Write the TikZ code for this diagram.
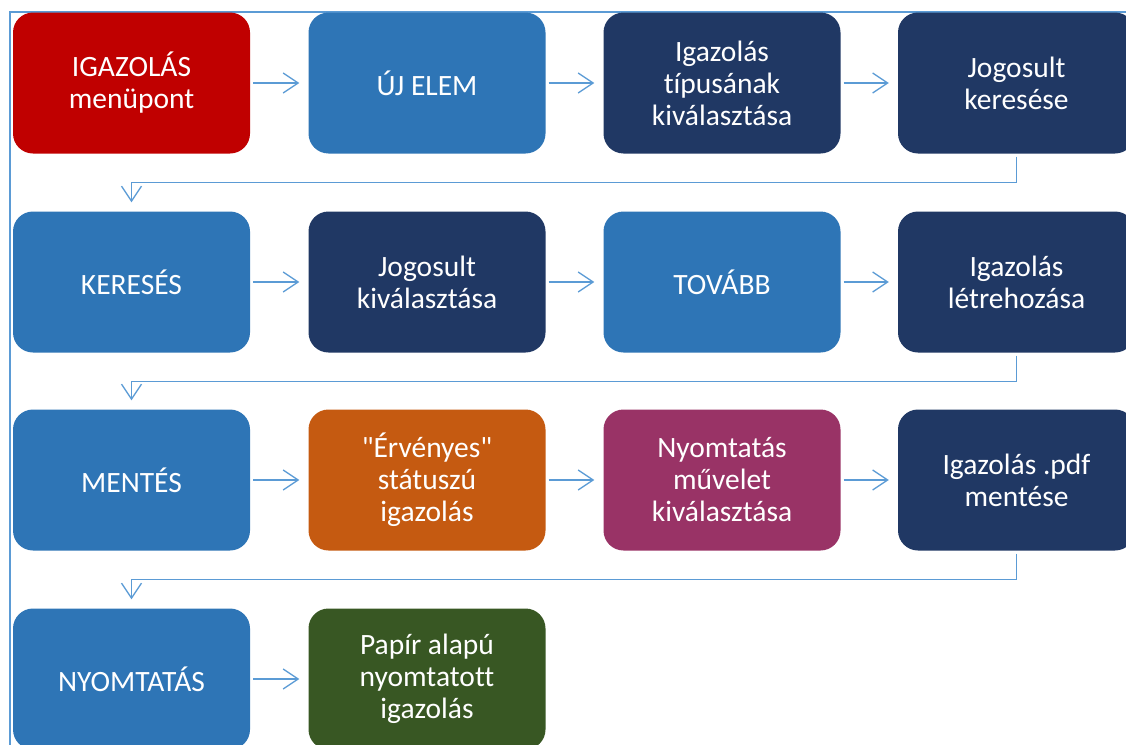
\documentclass[tikz,border=0pt]{standalone}
\usepackage{fontspec}
\setmainfont{Carlito}[Ligatures={TeXOff,CommonOff}]
\usetikzlibrary{arrows.meta}

\definecolor{pirosdoboz}{HTML}{C00000}
\definecolor{kekdoboz}{HTML}{2E75B6}
\definecolor{sotetdoboz}{HTML}{203864}
\definecolor{narancsdoboz}{HTML}{C55A11}
\definecolor{liladoboz}{HTML}{993366}
\definecolor{zolddoboz}{HTML}{385723}
\definecolor{vonal}{HTML}{5B9BD5}

\tikzset{
  doboz/.style={rounded corners=20pt, minimum width=237pt, minimum height=141pt,
    text=white, align=center, inner sep=0pt,
    font=\fontsize{29.5}{32}\selectfont},
  nyil/.style={draw=vonal, line width=1.3pt, -{Straight Barb[length=15pt,width=20pt,line width=1.3pt]},
    shorten <=3pt, shorten >=9pt},
  keret/.style={draw=vonal, line width=1.5pt}
}

\begin{document}
\begin{tikzpicture}[x=1pt, y=-1pt]
	\useasboundingbox (0,0) rectangle (1126,744);
	\clip (0,0) rectangle (1126,744);

	\draw[keret] (10,760) -- (10,12) -- (1140,12);

	% first row
	\node[doboz, fill=pirosdoboz] (A) at (131.5,83) {IGAZOLÁS\\menüpont};
	\node[doboz, fill=kekdoboz] (B) at (427,83) {ÚJ ELEM};
	\node[doboz, fill=sotetdoboz] (C) at (722,83) {Igazolás\\típusának\\kiválasztása};
	\node[doboz, fill=sotetdoboz] (D) at (1016.5,83) {Jogosult\\keresése};

	% second row
	\node[doboz, fill=kekdoboz] (E) at (131.5,282) {KERESÉS};
	\node[doboz, fill=sotetdoboz] (F) at (427,282) {Jogosult\\kiválasztása};
	\node[doboz, fill=kekdoboz] (G) at (722,282) {TOVÁBB};
	\node[doboz, fill=sotetdoboz] (H) at (1016.5,282) {Igazolás\\létrehozása};

	% third row
	\node[doboz, fill=kekdoboz] (I) at (131.5,480) {MENTÉS};
	\node[doboz, fill=narancsdoboz] (J) at (427,480) {"Érvényes"\\státuszú\\igazolás};
	\node[doboz, fill=liladoboz] (K) at (722,480) {Nyomtatás\\művelet\\kiválasztása};
	\node[doboz, fill=sotetdoboz] (L) at (1016.5,480) {Igazolás .pdf\\mentése};

	% fourth row
	\node[doboz, fill=kekdoboz] (M) at (131.5,679) {NYOMTATÁS};
	\node[doboz, fill=zolddoboz] (N) at (427,679) {Papír alapú\\nyomtatott\\igazolás};

	\draw[nyil] (A)--(B);
	\draw[nyil] (B)--(C);
	\draw[nyil] (C)--(D);
	\draw[nyil] (E)--(F);
	\draw[nyil] (F)--(G);
	\draw[nyil] (G)--(H);
	\draw[nyil] (I)--(J);
	\draw[nyil] (J)--(K);
	\draw[nyil] (K)--(L);
	\draw[nyil] (M)--(N);

	\draw[nyil] (D.south) -- ++(0,29) -| (E.north);
	\draw[nyil] (H.south) -- ++(0,29) -| (I.north);
	\draw[nyil] (L.south) -- ++(0,29) -| (M.north);
\end{tikzpicture}
\end{document}
